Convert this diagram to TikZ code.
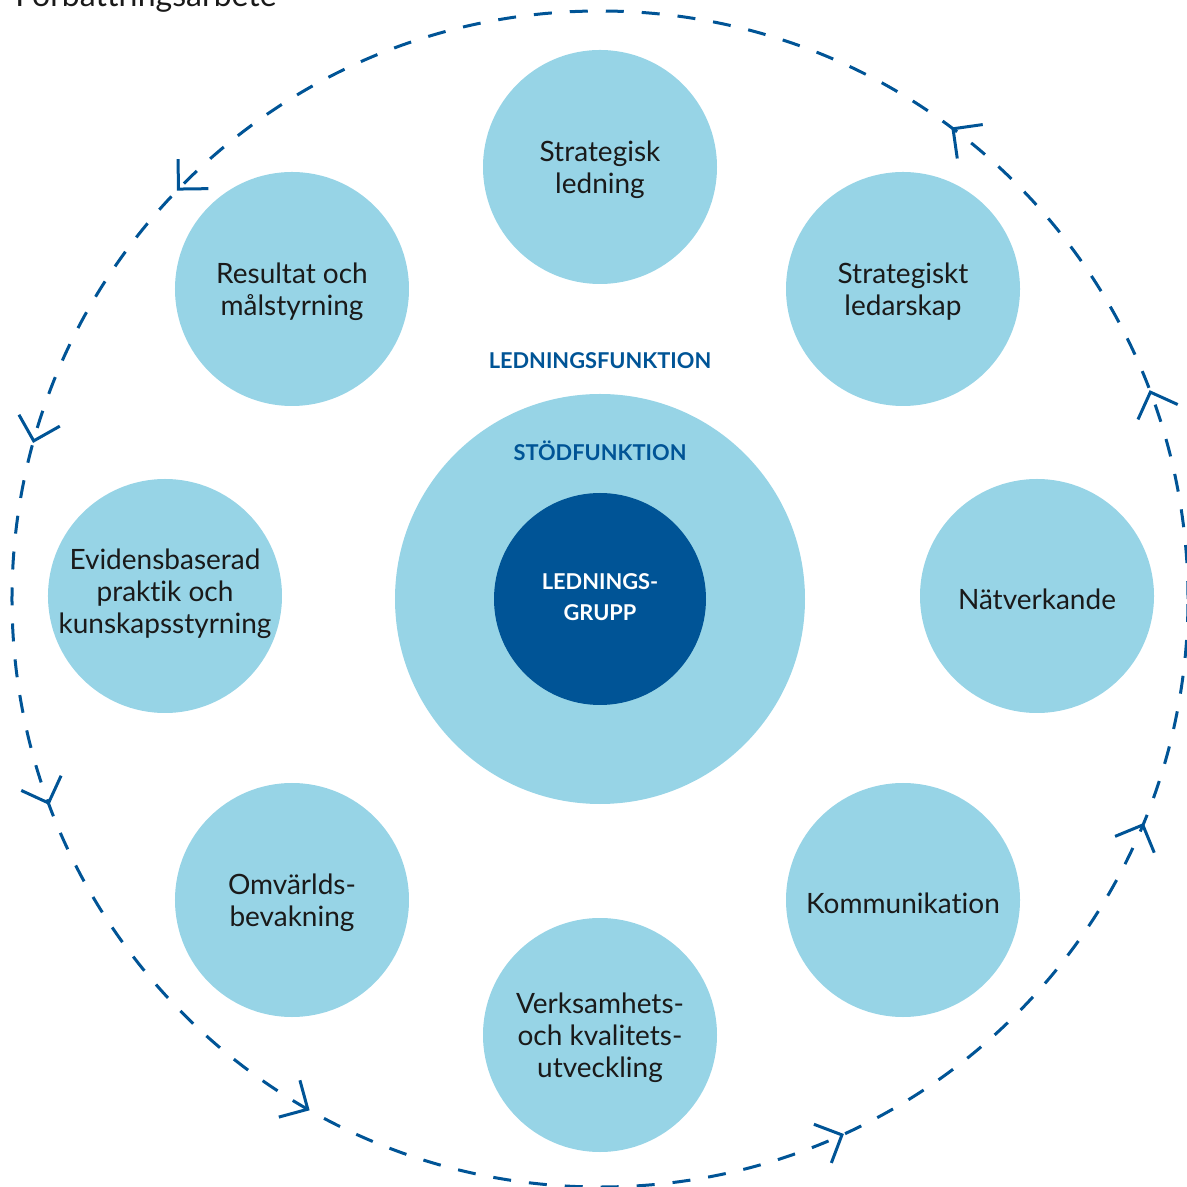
\documentclass[tikz,border=0pt]{standalone}
\usepackage{fontspec}
\setmainfont{Lato}[Ligatures=NoCommon]
\usepackage{tikz}

\definecolor{ringblue}{RGB}{0,84,150}
\definecolor{lightblue}{RGB}{151,212,230}
\definecolor{inktext}{RGB}{26,26,26}

\tikzset{
  bubble/.style={circle,fill=lightblue,minimum size=117pt,inner sep=0pt},
  bubbletext/.style={align=center,text=inktext,inner sep=0pt,yshift=-1.5pt,font=\fontsize{14}{16}\selectfont},
  capslabel/.style={text=ringblue,inner sep=0pt,align=center,font=\fontsize{10.9}{15.5}\selectfont\bfseries},
  ring/.style={draw=ringblue,line width=1.5pt,dash pattern=on 9pt off 9pt},
  barb/.style={draw=ringblue,line width=1.5pt}
}

\begin{document}
\begin{tikzpicture}[x=0.5pt,y=0.5pt]
        \useasboundingbox (-600,-588) rectangle (587,599);
        % Heading, cut by the page edge
        \node[anchor=base west,inner sep=0pt,text=inktext,font=\fontsize{16}{19}\selectfont] (heading) at (-585,592) {Förbättringsarbete};
        % Ring with barbs
        \draw[ring] (0,0) circle (588);
        \foreach \a in {20.6,53.1,135.8,164.4,200.3,240.2,294.3,337.4}
            \draw[barb] ([shift={(\a-45:30)}]\a:588) -- (\a:588) -- ([shift={(\a-135:30)}]\a:588);
        % Stodfunktion and Ledningsgrupp
        \node[bubble,minimum size=205pt] (stod) at (0,0) {};
        \node[circle,fill=ringblue,minimum size=106pt,inner sep=0pt] (grupp) at (0,0) {};
        \node[capslabel] (funktion) at (0,238) {LEDNINGSFUNKTION};
        \node[capslabel] (stodlabel) at (0,148) {STÖDFUNKTION};
        \node[capslabel,text=white,yshift=1pt] (gruppl) at (grupp) {LEDNINGS-\\GRUPP};
        % Ledningsfunktion bubbles
        \node[bubble] (strled) at (0,432) {};
        \node[bubbletext] (strled-t) at (strled) {Strategisk\\ledning};
        \node[bubble] (strlead) at (303,310) {};
        \node[bubbletext] (strlead-t) at (strlead) {Strategiskt\\ledarskap};
        \node[bubble] (natv) at (437,3) {};
        \node[bubbletext] (natv-t) at (natv) {Nätverkande};
        \node[bubble] (komm) at (303,-301) {};
        \node[bubbletext] (komm-t) at (komm) {Kommunikation};
        \node[bubble] (verks) at (0,-436) {};
        \node[bubbletext] (verks-t) at (verks) {Verksamhets-\\och kvalitets-\\utveckling};
        \node[bubble] (omv) at (-308,-301) {};
        \node[bubbletext] (omv-t) at (omv) {Omvärlds-\\bevakning};
        \node[bubble] (evid) at (-435,3) {};
        \node[bubbletext,yshift=2.5pt] (evid-t) at (evid) {Evidensbaserad\\praktik och\\kunskapsstyrning};
        \node[bubble] (resul) at (-308,310) {};
        \node[bubbletext] (resul-t) at (resul) {Resultat och\\målstyrning};
\end{tikzpicture}
\end{document}
